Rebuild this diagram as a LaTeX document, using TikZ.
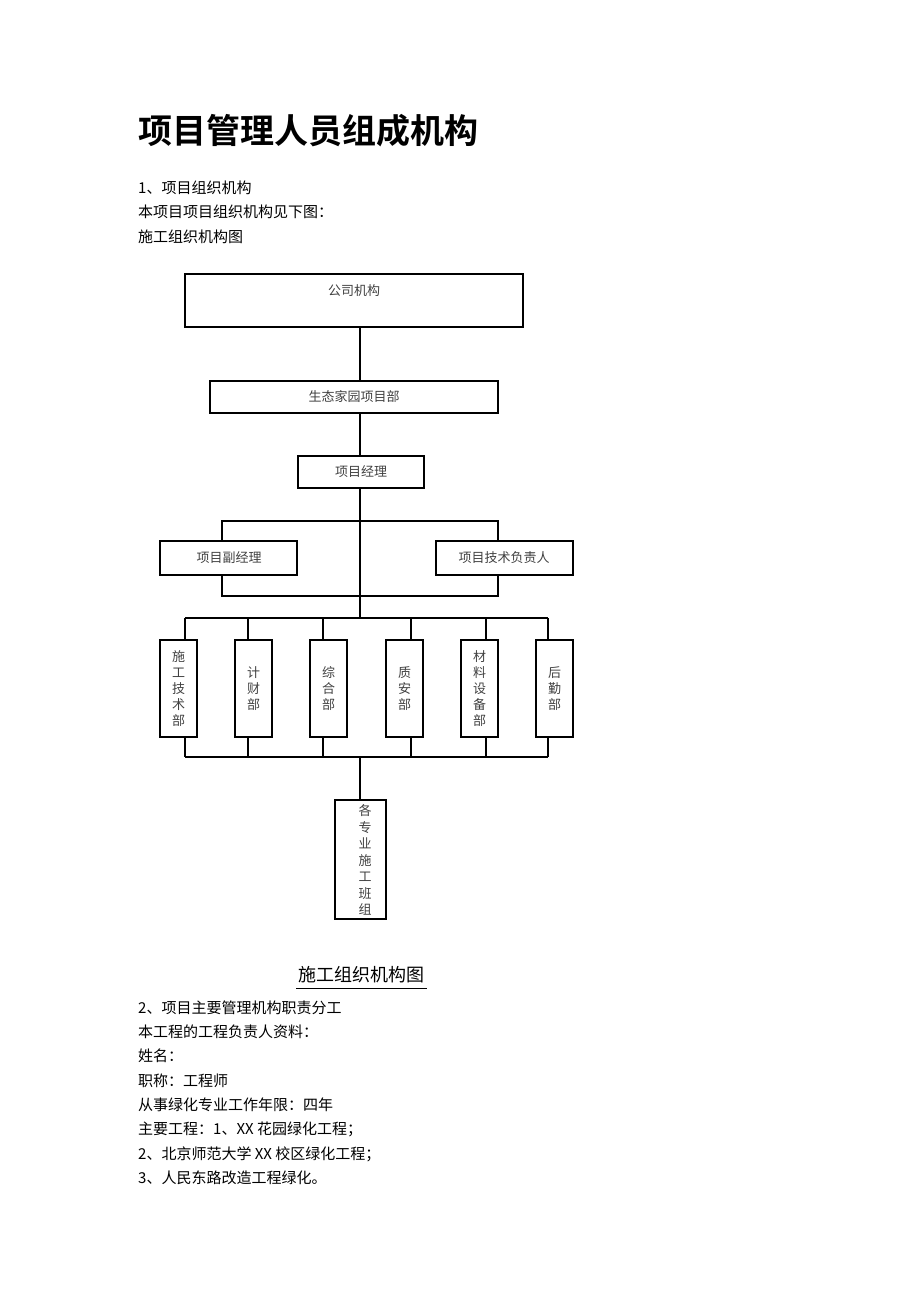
\documentclass[tikz,border=0pt]{standalone}
\usepackage{fontspec}
\newfontfamily\cjk{Noto Sans CJK SC}
\newfontfamily\cjkb{Noto Sans CJK SC Bold}
\begin{document}
\begin{tikzpicture}[x=1pt,y=-1pt,
  bx/.style={draw,line width=1.2pt,minimum width=0,inner sep=0},
  bt/.style={font=\cjk\fontsize{13}{16}\selectfont,text=black!75},
  tx/.style={anchor=west,font=\cjk\fontsize{15}{18}\selectfont,inner sep=0},
  ln/.style={line width=1.2pt}]
\useasboundingbox (0,0) rectangle (920,1302);
\node[anchor=west,inner sep=0,font=\cjkb\fontsize{34}{40}\selectfont] (title) at (138,131) {项目管理人员组成机构};
\node[tx] (l1) at (138,188) {1、项目组织机构};
\node[tx] (l2) at (138,212) {本项目项目组织机构见下图：};
\node[tx] (l3) at (138,237) {施工组织机构图};
% boxes
\draw[ln] (185,274) rectangle (523,327);
\node[bt] (gs) at (354,291) {公司机构};
\draw[ln] (210,381) rectangle (498,413);
\node[bt] (st) at (354,397) {生态家园项目部};
\draw[ln] (298,456) rectangle (424,488);
\node[bt] (jl) at (361,472) {项目经理};
\draw[ln] (160,541) rectangle (297,575);
\node[bt] (fj) at (229,558) {项目副经理};
\draw[ln] (436,541) rectangle (573,575);
\node[bt] (js) at (504,558) {项目技术负责人};
\coordinate (a1) at (360,327); \coordinate (a2) at (360,381);
\coordinate (a3) at (360,413); \coordinate (a4) at (360,456);
\coordinate (a5) at (360,488); \coordinate (a6) at (360,618);
\draw[ln] (a1)--(a2) (a3)--(a4) (a5)--(a6);
\draw[ln] (222,541)--(222,521)--(498,521)--(498,541);
\draw[ln] (222,575)--(222,596)--(498,596)--(498,575);
\draw[ln] (185,618)--(548,618);
\draw[ln] (185,757)--(548,757);
\foreach \x/\tk/\t in {160/185/{施\\工\\技\\术\\部},235/248/{计\\财\\部},310/323/{综\\合\\部},386/411/{质\\安\\部},461/486/{材\\料\\设\\备\\部},536/548/{后\\勤\\部}}{
  \draw[ln] (\x,640) rectangle (\x+37,737);
  \draw[ln] (\tk,618)--(\tk,640) (\tk,737)--(\tk,757);
  \node[bt,align=center,font=\cjk\fontsize{13}{16}\selectfont] at (\x+18.5,688.5) {\t};
}
\coordinate (b1) at (360,757); \coordinate (b2) at (360,800);
\draw[ln] (b1)--(b2);
\draw[ln] (335,800) rectangle (386,919);
\node[bt,align=center,font=\cjk\fontsize{13}{16.5}\selectfont] (bz) at (365,860) {各\\专\\业\\施\\工\\班\\组};
\node[font=\cjk\fontsize{18}{22}\selectfont,inner sep=0] (cap) at (361,975) {施工组织机构图};
\draw[line width=1pt] (296,988)--(427,988);
\node[tx] at (138,1008) {2、项目主要管理机构职责分工};
\node[tx] at (138,1032) {本工程的工程负责人资料：};
\node[tx] at (138,1056) {姓名：};
\node[tx] at (138,1081) {职称：工程师};
\node[tx] at (138,1105) {从事绿化专业工作年限：四年};
\node[tx] at (138,1129) {主要工程：1、XX 花园绿化工程；};
\node[tx] at (138,1154) {2、北京师范大学 XX 校区绿化工程；};
\node[tx] at (138,1178) {3、人民东路改造工程绿化。};
\end{tikzpicture}
\end{document}
